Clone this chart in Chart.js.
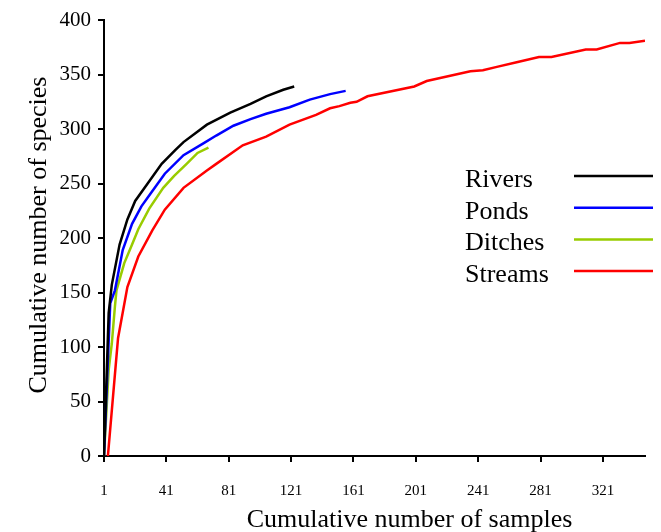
<!DOCTYPE html>
<html>
<head>
<meta charset="utf-8">
<script src="https://cdn.jsdelivr.net/npm/chart.js@4.4.1/dist/chart.umd.min.js"></script>
<style>
html, body { margin: 0; padding: 0; background: #ffffff; }
#wrap { width: 661px; height: 532px; position: relative; }
</style>
</head>
<body>
<div id="wrap"><canvas id="c" width="661" height="532"></canvas></div>
<script>
// ---- Data ----
const seriesNames = ['Rivers', 'Ponds', 'Ditches', 'Streams'];
const seriesColors = ['#000000', '#0000FF', '#99CC00', '#FF0000'];
const xTickLabels = [1, 41, 81, 121, 161, 201, 241, 281, 321];
const yTickLabels = [0, 50, 100, 150, 200, 250, 300, 350, 400];
const xTitle = 'Cumulative number of samples';
const yTitle = 'Cumulative number of species';

const riversSamples = [1, 4, 6, 11, 16, 21, 29, 38, 47, 52, 67, 82, 95, 105, 116, 123];
const riversSpecies = [0, 131, 157, 194, 217, 234, 250, 268, 281, 288, 304, 315, 323, 330, 336, 339];

const pondsSamples = [1, 5, 8, 13, 19, 25, 31, 40, 52, 65, 73, 84, 95, 105, 120, 133, 146, 156];
const pondsSpecies = [0, 140, 152, 189, 213, 229, 241, 259, 276, 287, 294, 303, 309, 314, 320, 327, 332, 335];

const ditchesSamples = [1, 4, 6, 8, 9, 14, 19, 23, 30, 39, 46, 54, 61, 68];
const ditchesSpecies = [0, 79, 103, 137, 152, 177, 194, 208, 227, 246, 257, 268, 278, 283];

const streamsSamples = [3.5, 10, 16, 23, 32, 40, 52, 67, 73, 90, 105, 120, 137, 146, 152, 159, 163, 170, 200, 208, 236, 244, 253, 265, 280, 288, 310, 317, 332, 338, 348];
const streamsSpecies = [0, 108, 155, 183, 207, 226, 246, 262, 268, 285, 293, 304, 313, 319, 321, 324, 325, 330, 339, 344, 353, 354, 357, 361, 366, 366, 373, 373, 379, 379, 381];

const xMin = 1, xMax = 348, yMin = 0, yMax = 400;

function toPoints(xs, ys) { return xs.map((x, i) => ({ x: x, y: ys[i] })); }

const allSeries = [
  toPoints(riversSamples, riversSpecies),
  toPoints(pondsSamples, pondsSpecies),
  toPoints(ditchesSamples, ditchesSpecies),
  toPoints(streamsSamples, streamsSpecies)
];

const SERIF = '"Liberation Serif", "Times New Roman", serif';

const datasets = allSeries.map((pts, i) => ({
  label: seriesNames[i],
  data: pts,
  borderColor: seriesColors[i],
  backgroundColor: seriesColors[i],
  borderWidth: 2.5,
  pointRadius: 0,
  pointHoverRadius: 0,
  tension: 0,
  fill: false
}));

const decorPlugin = {
  id: 'decor',
  afterDraw(chart) {
    const ctx = chart.ctx;
    ctx.save();
    ctx.fillStyle = '#000';
    ctx.font = '26px ' + SERIF;
    // legend: text then line sample
    chart.data.datasets.forEach((ds, i) => {
      const ly = 176 + i * 31.7;
      ctx.textAlign = 'left';
      ctx.textBaseline = 'alphabetic';
      ctx.fillStyle = '#000';
      ctx.fillText(ds.label, 465, ly + 11);
      ctx.beginPath();
      ctx.strokeStyle = ds.borderColor;
      ctx.lineWidth = 2.5;
      ctx.moveTo(574, ly);
      ctx.lineTo(653, ly);
      ctx.stroke();
    });
    // axis titles
    ctx.fillStyle = '#000';
    ctx.textAlign = 'center';
    ctx.textBaseline = 'alphabetic';
    ctx.fillText(xTitle, 409.5, 527);
    ctx.translate(46, 235);
    ctx.rotate(-Math.PI / 2);
    ctx.fillText(yTitle, 0, 0);
    ctx.restore();
  }
};

new Chart(document.getElementById('c'), {
  type: 'line',
  data: { datasets: datasets },
  options: {
    responsive: false,
    animation: false,
    devicePixelRatio: 1,
    layout: { padding: { left: 0, top: 20, right: 16, bottom: 0 } },
    plugins: {
      legend: { display: false },
      tooltip: { enabled: false },
      title: { display: false }
    },
    scales: {
      x: {
        type: 'linear',
        min: xMin,
        max: xMax,
        afterBuildTicks(axis) { axis.ticks = xTickLabels.map(v => ({ value: v })); },
        afterFit(axis) { axis.height = 76; },
        ticks: {
          autoSkip: false,
          maxRotation: 0,
          color: '#000',
          font: { family: SERIF, size: 15 },
          padding: 20,
          callback: (v) => String(v)
        },
        grid: {
          drawOnChartArea: false,
          drawTicks: true,
          tickLength: 6,
          color: '#000',
          lineWidth: 2
        },
        border: { display: true, color: '#000', width: 2 }
      },
      y: {
        type: 'linear',
        min: yMin,
        max: yMax,
        afterBuildTicks(axis) { axis.ticks = yTickLabels.map(v => ({ value: v })); },
        afterFit(axis) { axis.width = 104; },
        ticks: {
          color: '#000',
          font: { family: SERIF, size: 21 },
          padding: 7,
          callback: (v) => String(v)
        },
        grid: {
          drawOnChartArea: false,
          drawTicks: true,
          tickLength: 6,
          color: '#000',
          lineWidth: 2
        },
        border: { display: true, color: '#000', width: 2 }
      }
    }
  },
  plugins: [decorPlugin]
});
</script>
</body>
</html>
